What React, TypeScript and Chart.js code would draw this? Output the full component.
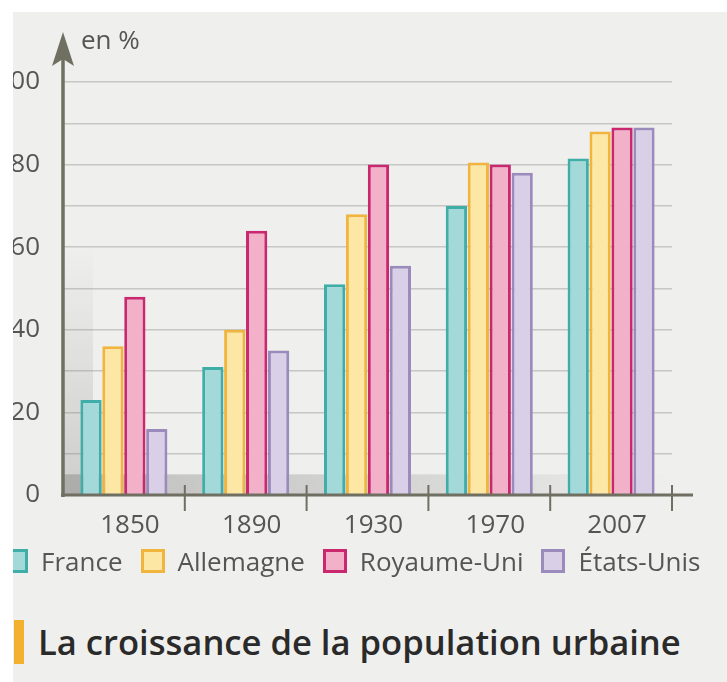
import React, { useEffect, useRef } from "react";
import { Chart, registerables } from "chart.js";

Chart.register(...registerables);

const years = ["1850", "1890", "1930", "1970", "2007"];
const france = [23, 31, 51, 70, 81.5];
const allemagne = [36, 40, 68, 80.5, 88];
const royaumeUni = [48, 64, 80, 80, 89];
const etatsUnis = [16, 35, 55.5, 78, 89];
const seriesNames = ["France", "Allemagne", "Royaume-Uni", "États-Unis"];
const fills = ["#a3dad9", "#fce7a4", "#f2b1c8", "#d9cfe6"];
const borders = ["#3faea8", "#f1b53e", "#c9286f", "#9b8bbd"];
const yMin = 0;
const yMax = 100;
const yStep = 10;
const yLabelEvery = 20;
const unitLabel = "en %";
const title = "La croissance de la population urbaine";

const FONT = "'Open Sans', 'DejaVu Sans', sans-serif";
const AXIS = "#6f6f62";
const TEXT = "#555555";

const decor = {
  id: "decor",
  beforeDatasetsDraw(chart: any) {
    const { ctx, chartArea, scales } = chart;
    const y0 = scales.y.getPixelForValue(0);
    const y5 = scales.y.getPixelForValue(5);
    ctx.save();
    // floor shadow
    const g = ctx.createLinearGradient(chartArea.left, 0, chartArea.right, 0);
    g.addColorStop(0, "rgba(120,120,120,0.40)");
    g.addColorStop(0.6, "rgba(120,120,120,0.20)");
    g.addColorStop(1, "rgba(120,120,120,0.0)");
    ctx.fillStyle = g;
    ctx.fillRect(chartArea.left, y5, chartArea.right - chartArea.left, y0 - y5);
    // left shadow (soft)
    const y60 = scales.y.getPixelForValue(60);
    const g2 = ctx.createLinearGradient(0, y60, 0, y0);
    g2.addColorStop(0, "rgba(120,120,120,0)");
    g2.addColorStop(1, "rgba(120,120,120,0.28)");
    ctx.fillStyle = g2;
    ctx.fillRect(chartArea.left, y60, 30, y0 - y60);
    ctx.restore();
  },
  afterDraw(chart: any) {
    const { ctx, chartArea, scales } = chart;
    const y0 = scales.y.getPixelForValue(0);
    const ax = chartArea.left;
    ctx.save();
    ctx.strokeStyle = AXIS;
    ctx.fillStyle = AXIS;
    // x axis
    ctx.lineWidth = 3;
    ctx.beginPath();
    ctx.moveTo(ax - 2, y0);
    ctx.lineTo(chartArea.right + 21, y0);
    ctx.stroke();
    // category boundary ticks
    const n = years.length;
    const w = (chartArea.right - chartArea.left) / n;
    ctx.lineWidth = 2;
    for (let k = 1; k <= n; k++) {
      const bx = chartArea.left + k * w;
      ctx.beginPath();
      ctx.moveTo(bx, y0 - 10);
      ctx.lineTo(bx, y0 + 16);
      ctx.stroke();
    }
    // y axis with arrow
    const tipY = chartArea.top - 50;
    ctx.lineWidth = 3.5;
    ctx.beginPath();
    ctx.moveTo(ax, y0 + 2);
    ctx.lineTo(ax, tipY + 20);
    ctx.stroke();
    ctx.beginPath();
    ctx.moveTo(ax, tipY);
    ctx.lineTo(ax + 11, tipY + 34);
    ctx.lineTo(ax, tipY + 27);
    ctx.lineTo(ax - 11, tipY + 34);
    ctx.closePath();
    ctx.fill();
    // unit label
    ctx.fillStyle = TEXT;
    ctx.font = `26px ${FONT}`;
    ctx.textAlign = "left";
    ctx.textBaseline = "middle";
    ctx.fillText(unitLabel, ax + 18, tipY + 10);
    ctx.restore();
  },
};

export default function App() {
  const ref = useRef<HTMLCanvasElement | null>(null);

  useEffect(() => {
    if (!ref.current) return;
    const values = [france, allemagne, royaumeUni, etatsUnis];
    const chart = new Chart(ref.current, {
      type: "bar",
      data: {
        labels: years,
        datasets: values.map((v, i) => ({
          label: seriesNames[i],
          data: v,
          backgroundColor: fills[i],
          borderColor: borders[i],
          borderWidth: 3,
          categoryPercentage: 0.72,
          barPercentage: 0.97,
        })),
      },
      options: {
        responsive: false,
        animation: false,
        events: [],
        layout: { padding: { top: 82, right: 55, bottom: 35, left: 0 } },
        plugins: {
          legend: { display: false },
          tooltip: { enabled: false },
          title: { display: false },
        },
        scales: {
          x: {
            grid: { display: false },
            border: { display: false },
            ticks: {
              color: TEXT,
              font: { family: FONT, size: 26 },
              padding: 7,
              labelOffset: 6,
            },
            afterFit: (s: any) => {
              s.height = 60;
            },
          },
          y: {
            min: yMin,
            max: yMax,
            grid: { color: "#c6c6c4", lineWidth: 1.5, drawTicks: false },
            border: { display: false },
            ticks: {
              stepSize: yStep,
              padding: 23,
              color: TEXT,
              font: { family: FONT, size: 26 },
              callback: (v: any) => (Number(v) % yLabelEvery === 0 ? String(v) : ""),
            },
            afterFit: (s: any) => {
              s.width = 80;
            },
          },
        },
      },
      plugins: [decor],
    });
    return () => chart.destroy();
  }, []);

  return (
    <div style={{ position: "fixed", left: 0, top: 0, width: 727, height: 682, background: "#ffffff", overflow: "hidden" }}>
      <div style={{ position: "absolute", left: 13, top: 12, width: 714, height: 670, background: "#efefed", overflow: "hidden" }}>
        <canvas ref={ref} width={744} height={590} style={{ position: "absolute", left: -30, top: -12, width: 744, height: 590 }} />
        <div style={{ position: "absolute", left: -9, top: 536, height: 26, display: "flex", alignItems: "center", fontFamily: FONT, fontSize: 26, color: TEXT, whiteSpace: "nowrap" }}>
          {seriesNames.map((name, i) => (
            <div key={name} style={{ display: "flex", alignItems: "center", marginRight: 18 }}>
              <span style={{ display: "inline-block", width: 24, height: 24, boxSizing: "border-box", background: fills[i], border: `3px solid ${borders[i]}`, marginRight: 13 }} />
              <span>{name}</span>
            </div>
          ))}
        </div>
        <div style={{ position: "absolute", left: 1, top: 608, height: 44, lineHeight: "44px", borderLeft: "10px solid #f2b230", paddingLeft: 14, fontFamily: FONT, fontSize: 34.6, fontWeight: 600, color: "#2a2a2a", whiteSpace: "nowrap" }}>
          {title}
        </div>
      </div>
    </div>
  );
}
